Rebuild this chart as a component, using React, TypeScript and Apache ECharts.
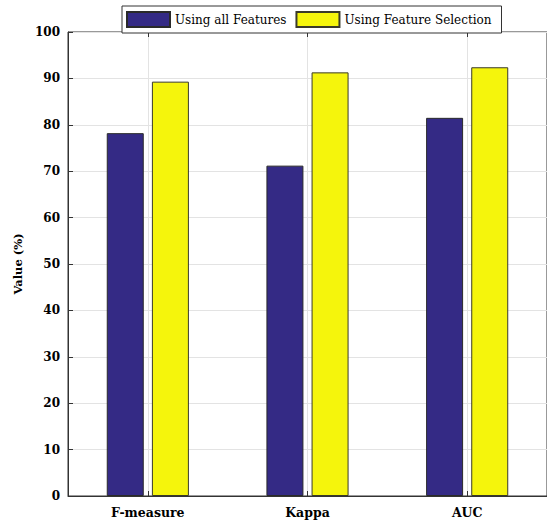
import React, { useEffect, useRef } from "react";
import * as echarts from "echarts";

const categories = ["F-measure", "Kappa", "AUC"];
const allFeatures = [78.2, 71.2, 81.5];
const featureSelection = [89.3, 91.3, 92.4];
const yTicks = { min: 0, max: 100, interval: 10 };
// half-category slots used only to place the vertical grid lines at category centres
const halfSlots = categories.flatMap((c) => [c + "-L", c + "-R"]);

export default function App() {
  const ref = useRef<HTMLDivElement>(null);
  useEffect(() => {
    if (!ref.current) return;
    const chart = echarts.init(ref.current, null, { renderer: "svg" });
    const font = "DejaVu Serif";
    const centre = (i: number) => i % 2 === 1;
    chart.setOption({
      animation: false,
      backgroundColor: "#ffffff",
      textStyle: { fontFamily: font },
      legend: {
        data: ["Using all Features", "Using Feature Selection"],
        left: 122,
        top: 6,
        padding: [5, 10, 5, 4],
        icon: "rect",
        itemWidth: 43,
        itemHeight: 15,
        itemGap: 9,
        borderColor: "#333",
        borderWidth: 1,
        backgroundColor: "#fff",
        textStyle: { fontFamily: font, fontSize: 12, color: "#000" },
        z: 10,
      },
      grid: {
        left: 68,
        right: -9,
        top: 32,
        bottom: 30,
        show: true,
        borderColor: "#333",
        borderWidth: 1,
      },
      xAxis: [
        {
          type: "category",
          data: categories,
          axisLine: { lineStyle: { color: "#333", width: 1 } },
          axisTick: { show: true, inside: true, alignWithLabel: true, length: 5, lineStyle: { color: "#333" } },
          splitLine: { show: false },
          axisLabel: { fontFamily: font, fontWeight: "bold", fontSize: 12.5, color: "#000", margin: 10 },
        },
        {
          type: "category",
          data: halfSlots,
          position: "top",
          axisLine: { show: false },
          axisLabel: { show: false },
          axisTick: { show: true, inside: true, interval: centre, length: 5, lineStyle: { color: "#333" } },
          splitLine: { show: true, interval: centre, lineStyle: { color: "#e3e3e3", width: 1 } },
        },
      ],
      yAxis: {
        type: "value",
        min: yTicks.min,
        max: yTicks.max,
        interval: yTicks.interval,
        name: "Value (%)",
        nameLocation: "middle",
        nameGap: 42,
        nameTextStyle: { fontFamily: font, fontWeight: "bold", fontSize: 11.5, color: "#000" },
        axisLine: { show: true, lineStyle: { color: "#333", width: 1 } },
        axisTick: { show: true, inside: true, length: 5, lineStyle: { color: "#333" } },
        splitLine: { show: true, lineStyle: { color: "#e3e3e3", width: 1 } },
        axisLabel: { fontFamily: font, fontWeight: "bold", fontSize: 12, color: "#000", margin: 8 },
      },
      series: [
        {
          name: "Using all Features",
          type: "bar",
          xAxisIndex: 0,
          data: allFeatures,
          barWidth: 37,
          barGap: "22%",
          itemStyle: { color: "#342a85", borderColor: "#2a2a2a", borderWidth: 1 },
        },
        {
          name: "Using Feature Selection",
          type: "bar",
          xAxisIndex: 0,
          data: featureSelection,
          barWidth: 37,
          barGap: "22%",
          itemStyle: { color: "#f5f50c", borderColor: "#3a3a2a", borderWidth: 1 },
        },
      ],
    });
    return () => chart.dispose();
  }, []);
  return <div ref={ref} style={{ width: 547, height: 526, position: "absolute", left: 0, top: 0 }} />;
}
